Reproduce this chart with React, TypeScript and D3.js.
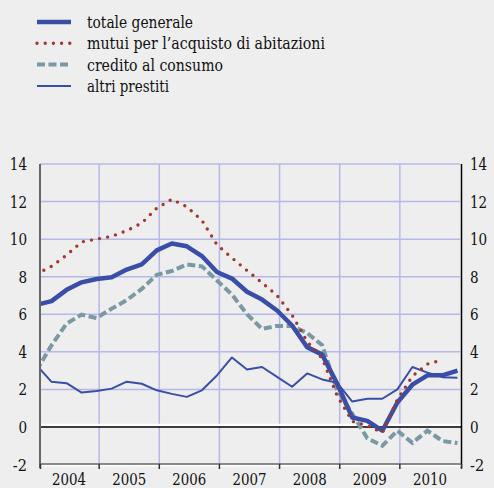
import React from "react";
import * as d3 from "d3";

// quarterly points: Dec 2003 .. Dec 2010 (index 0..28)
const totaleGenerale = [6.5, 6.7, 7.3, 7.7, 7.88, 7.97, 8.38, 8.65, 9.4, 9.77, 9.62, 9.1, 8.25, 7.9, 7.2, 6.78, 6.2, 5.4, 4.25, 3.85, 2.3, 0.5, 0.32, -0.2, 1.3, 2.25, 2.75, 2.75, 3.0];
const mutui = [8.15, 8.55, 9.15, 9.85, 10.0, 10.15, 10.45, 10.85, 11.65, 12.12, 11.72, 11.0, 9.7, 9.0, 8.33, 7.68, 7.0, 5.95, 4.55, 3.65, 1.65, 0.3, 0.07, -0.3, 1.45, 2.7, 3.35, 3.57];
const credito = [3.0, 4.35, 5.5, 5.98, 5.8, 6.3, 6.75, 7.35, 8.1, 8.3, 8.65, 8.55, 7.8, 7.05, 6.0, 5.22, 5.38, 5.38, 5.0, 4.35, 1.95, 0.7, -0.6, -1.0, -0.2, -0.85, -0.2, -0.75, -0.86];
const altri = [3.3, 2.4, 2.33, 1.83, 1.91, 2.04, 2.41, 2.3, 1.95, 1.76, 1.6, 1.95, 2.74, 3.7, 3.06, 3.19, 2.67, 2.14, 2.85, 2.53, 2.35, 1.35, 1.5, 1.5, 2.0, 3.19, 2.89, 2.65, 2.62];

const years = ["2004", "2005", "2006", "2007", "2008", "2009", "2010"];
const yTicks = [-2, 0, 2, 4, 6, 8, 10, 12, 14];
const legendLabels = ["totale generale", "mutui per l\u2019acquisto di abitazioni", "credito al consumo", "altri prestiti"];
const legendWidths = [106, 238, 136, 82];

const BLUE = "#3a4ea8";
const RED = "#a0392b";
const GREY = "#7b98a5";
const GRID = "#b6b9e8";
const FONT = "DejaVu Serif";

export default function App() {
  const W = 494, H = 488;
  const x0 = 39, x1 = 460;
  const x = d3.scaleLinear().domain([0, 84]).range([x0, x1]); // months since Jan 2004
  const y = d3.scaleLinear().domain([-2, 14]).range([464.5, 164]);
  const qx = (i: number) => x(3 * i - 0.5);

  const mk = (vals: number[]) =>
    d3.line<number>().x((_, i) => qx(i)).y((v) => y(v))(vals) || "";

  const legend = [
    { stroke: BLUE, w: 4.5, dash: undefined, cap: "butt" },
    { stroke: RED, w: 3.4, dash: "0 8.2", cap: "round" },
    { stroke: GREY, w: 4, dash: "8 3.5", cap: "butt" },
    { stroke: BLUE, w: 2, dash: undefined, cap: "butt" },
  ];
  const legendY = [22, 43.3, 64.6, 86];
  const tickW = (t: number) => String(Math.abs(t)).length * 8.6 + (t < 0 ? 5.6 : 0);

  return (
    <svg width={W} height={H} style={{ position: "absolute", left: 0, top: 0, background: "#eeeeee" }}>
      <rect x={0} y={0} width={W} height={H} fill="#eeeeee" />
      <defs>
        <clipPath id="plot">
          <rect x={40} y={150} width={421} height={320} />
        </clipPath>
      </defs>
      {legend.map((l, i) => (
        <g key={i}>
          <line x1={37} x2={71} y1={legendY[i]} y2={legendY[i]} stroke={l.stroke} strokeWidth={l.w}
            strokeDasharray={l.dash} strokeLinecap={l.cap as any} />
          <text x={87} y={legendY[i] + 6} fontSize={17} fill="#111" fontFamily={FONT}
            textLength={legendWidths[i]} lengthAdjust="spacingAndGlyphs">{legendLabels[i]}</text>
        </g>
      ))}
      {yTicks.filter((t) => t > 0).map((t) => (
        <line key={t} x1={40} x2={460} y1={y(t)} y2={y(t)} stroke={GRID} strokeWidth={1.5} />
      ))}
      {d3.range(1, 7).map((k) => (
        <line key={k} x1={x(12 * k)} x2={x(12 * k)} y1={164} y2={464} stroke={GRID} strokeWidth={1.5} />
      ))}
      <line x1={40} x2={461} y1={y(0) - 2} y2={y(0) - 2} stroke="#ffffff" strokeWidth={2.5} />
      <line x1={40} x2={461} y1={y(0)} y2={y(0)} stroke="#000" strokeWidth={1.5} />
      <g clipPath="url(#plot)" fill="none">
        <path d={mk(credito)} stroke={GREY} strokeWidth={4} strokeDasharray="8 3.5" />
        <path d={mk(totaleGenerale)} stroke={BLUE} strokeWidth={4.5} strokeLinejoin="round" />
        <path d={mk(altri)} stroke={BLUE} strokeWidth={2} strokeLinejoin="round" />
        <path d={mk(mutui)} stroke={RED} strokeWidth={3.4} strokeDasharray="0 8.2" strokeLinecap="round" />
      </g>
      <line x1={40} x2={40} y1={164} y2={468} stroke="#666" strokeWidth={2} />
      <line x1={461.5} x2={461.5} y1={164} y2={468} stroke="#000" strokeWidth={1.5} />
      <line x1={40} x2={461} y1={465.5} y2={465.5} stroke="#ffffff" strokeWidth={2} />
      <line x1={40} x2={461} y1={464} y2={464} stroke="#666" strokeWidth={1.5} />
      {d3.range(0, 8).map((k) => (
        <line key={k} x1={k === 7 ? 461.5 : Math.max(40.5, x(12 * k))} x2={k === 7 ? 461.5 : Math.max(40.5, x(12 * k))}
          y1={464} y2={469} stroke="#333" strokeWidth={1.5} />
      ))}
      {years.map((yr, i) => (
        <text key={yr} x={x(12 * i + 6)} y={484.5} fontSize={16.5} textAnchor="middle" fill="#111" fontFamily={FONT}
          textLength={34} lengthAdjust="spacingAndGlyphs">{yr}</text>
      ))}
      {yTicks.map((t) => (
        <g key={t}>
          <text x={27} y={y(t) + 6} fontSize={16.5} textAnchor="end" fill="#111" fontFamily={FONT}
            textLength={tickW(t)} lengthAdjust="spacingAndGlyphs">{t}</text>
          <text x={470} y={y(t) + 6} fontSize={16.5} textAnchor="start" fill="#111" fontFamily={FONT}
            textLength={tickW(t)} lengthAdjust="spacingAndGlyphs">{t}</text>
        </g>
      ))}
    </svg>
  );
}
